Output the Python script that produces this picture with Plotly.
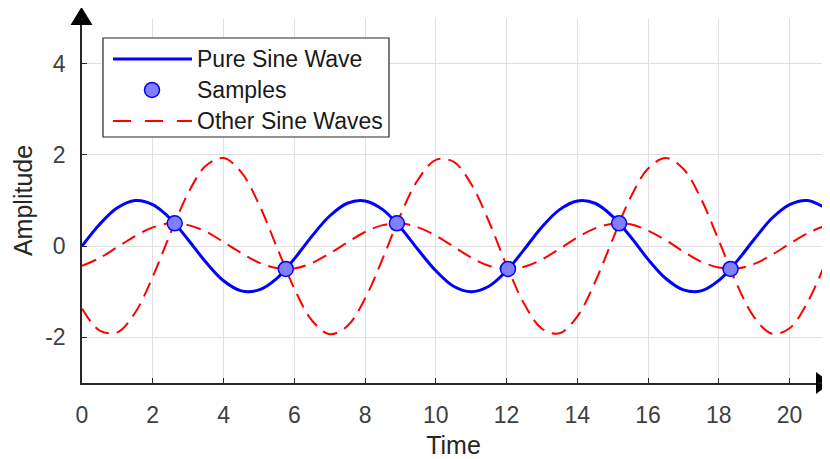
import plotly.graph_objects as go

# ---- data ----
t = [0, 0.5, 1, 1.5, 2, 2.5, 3, 3.5, 4, 4.5, 5, 5.5, 6, 6.5, 7, 7.5, 8, 8.5, 9, 9.5,
     10, 10.5, 11, 11.5, 12, 12.5, 13, 13.5, 14, 14.5, 15, 15.5, 16, 16.5, 17, 17.5,
     18, 18.5, 19, 19.5, 20, 20.5, 21]
pure_sine = [0.00, 0.48, 0.84, 1.00, 0.91, 0.60, 0.14, -0.35, -0.76, -0.98, -0.96, -0.71,
             -0.28, 0.22, 0.66, 0.94, 0.99, 0.80, 0.41, -0.08, -0.54, -0.88, -1.00, -0.88,
             -0.54, -0.07, 0.42, 0.80, 0.99, 0.94, 0.65, 0.21, -0.29, -0.71, -0.96, -0.98,
             -0.75, -0.34, 0.15, 0.61, 0.91, 1.00, 0.84]
other_small = [-0.43, -0.26, -0.02, 0.22, 0.41, 0.50, 0.46, 0.32, 0.09, -0.15, -0.36, -0.48,
               -0.49, -0.37, -0.16, 0.08, 0.31, 0.46, 0.50, 0.41, 0.23, -0.01, -0.25, -0.43,
               -0.50, -0.45, -0.29, -0.06, 0.19, 0.39, 0.49, 0.48, 0.34, 0.13, -0.12, -0.34,
               -0.47, -0.49, -0.39, -0.19, 0.05, 0.28, 0.45]
other_large = [-1.37, -1.85, -1.89, -1.46, -0.67, 0.28, 1.16, 1.76, 1.93, 1.62, 0.92, -0.01,
               -0.93, -1.63, -1.93, -1.75, -1.15, -0.27, 0.68, 1.46, 1.89, 1.85, 1.36, 0.54,
               -0.42, -1.27, -1.81, -1.91, -1.54, -0.79, 0.15, 1.06, 1.70, 1.93, 1.69, 1.03,
               0.12, -0.82, -1.56, -1.92, -1.80, -1.24, -0.39]
sample_t = [2.62, 5.76, 8.90, 12.04, 15.18, 18.33]
sample_v = [0.5, -0.5, 0.5, -0.5, 0.5, -0.5]
x_ticks = [0, 2, 4, 6, 8, 10, 12, 14, 16, 18, 20]
y_ticks = [-2, 0, 2, 4]
y_tick_labels = ["-2", "0", "2", "4"]
legend_labels = ["Pure Sine Wave", "Samples", "Other Sine Waves"]

BLUE = "#0000ff"
RED = "#ff0000"
AX = "#262626"
FONT = "Liberation Sans, Arial, sans-serif"

# the page body has an 8px margin; lay out so the plot sits at window pixels
OFF = 8
WIN_W, WIN_H = 830, 459
PL, PR, PT, PB = 82, 825, 18, 383          # plot area in window pixels
W, H = WIN_W - OFF, WIN_H - OFF
ML, MT = PL - OFF, PT - OFF
MR, MB = W - (PR - OFF), H - (PB - OFF)
PW, PH = PR - PL, PB - PT


def px(x):
    return (x - PL) / PW


def py(y):
    return (PB - y) / PH


fig = go.Figure()
fig.add_trace(go.Scatter(x=t, y=other_small, mode="lines", line_shape="spline",
                         line=dict(color=RED, width=2, dash="15px,8px"),
                         showlegend=False))
fig.add_trace(go.Scatter(x=t, y=other_large, mode="lines", line_shape="spline",
                         line=dict(color=RED, width=2, dash="15px,8px"),
                         showlegend=False))
fig.add_trace(go.Scatter(x=t, y=pure_sine, mode="lines", line_shape="spline",
                         line=dict(color=BLUE, width=3), showlegend=False))
fig.add_trace(go.Scatter(x=sample_t, y=sample_v, mode="markers",
                         marker=dict(size=15, color="#7f7fff",
                                     line=dict(color=BLUE, width=1.5)),
                         showlegend=False))

shapes = []
# arrowheads
shapes.append(dict(type="path", xref="paper", yref="paper",
                   path=f"M {px(81.5)} {py(7)} L {px(70.5)} {py(25)} L {px(92.5)} {py(25)} Z",
                   fillcolor="black", line=dict(color="black", width=0)))
shapes.append(dict(type="path", xref="paper", yref="paper",
                   path=f"M {px(831)} {py(383)} L {px(816)} {py(372)} L {px(816)} {py(394)} Z",
                   fillcolor="black", line=dict(color="black", width=0)))
# axis line extensions up to the arrows
shapes.append(dict(type="line", xref="paper", yref="paper",
                   x0=0, x1=0, y0=1, y1=py(20), line=dict(color=AX, width=1.5)))
shapes.append(dict(type="line", xref="paper", yref="paper",
                   x0=1, x1=px(818), y0=0, y1=0, line=dict(color=AX, width=1.5)))
# legend box
shapes.append(dict(type="rect", xref="paper", yref="paper",
                   x0=px(103), x1=px(389), y0=py(137), y1=py(38),
                   fillcolor="white", line=dict(color=AX, width=1.2)))
shapes.append(dict(type="line", xref="paper", yref="paper",
                   x0=px(113), x1=px(192), y0=py(59), y1=py(59),
                   line=dict(color=BLUE, width=3)))
shapes.append(dict(type="circle", xref="paper", yref="paper",
                   x0=px(144.5), x1=px(159.5), y0=py(97.5), y1=py(82.5),
                   fillcolor="#7f7fff", line=dict(color=BLUE, width=1.5)))
shapes.append(dict(type="line", xref="paper", yref="paper",
                   x0=px(113), x1=px(192), y0=py(121), y1=py(121),
                   line=dict(color=RED, width=2, dash="18px,14px")))

annotations = []
for lbl, yy in zip(legend_labels, [59, 90, 121]):
    annotations.append(dict(text=lbl, xref="paper", yref="paper", x=px(195), y=py(yy),
                            xanchor="left", yanchor="middle", showarrow=False,
                            font=dict(family=FONT, size=23, color="#1a1a1a")))

fig.update_layout(
    width=W, height=H,
    margin=dict(l=ML, r=MR, t=MT, b=MB, pad=0),
    paper_bgcolor="white", plot_bgcolor="white",
    font=dict(family=FONT, size=23, color=AX),
    shapes=shapes, annotations=annotations,
    showlegend=False,
    xaxis=dict(range=[0, 21], tickvals=x_ticks, showgrid=True, gridcolor="#e0e0e0",
               gridwidth=1, zeroline=False, showline=True, linecolor=AX, linewidth=1.5,
               ticks="inside", ticklen=5, tickcolor=AX, tickwidth=1.2, automargin=False,
               title=dict(text="Time", font=dict(size=25, color=AX), standoff=11),
               tickfont=dict(size=23, color="#404040"), ticklabelstandoff=11),
    yaxis=dict(range=[-3, 5], tickvals=y_ticks, ticktext=y_tick_labels, showgrid=True,
               gridcolor="#e0e0e0", automargin=False,
               gridwidth=1, zeroline=False, showline=True, linecolor=AX, linewidth=1.5,
               ticks="inside", ticklen=5, tickcolor=AX, tickwidth=1.2,
               title=dict(text="Amplitude", font=dict(size=25, color=AX), standoff=5),
               tickfont=dict(size=23, color="#404040"), ticklabelstandoff=10),
)

fig.write_html("out.html")
